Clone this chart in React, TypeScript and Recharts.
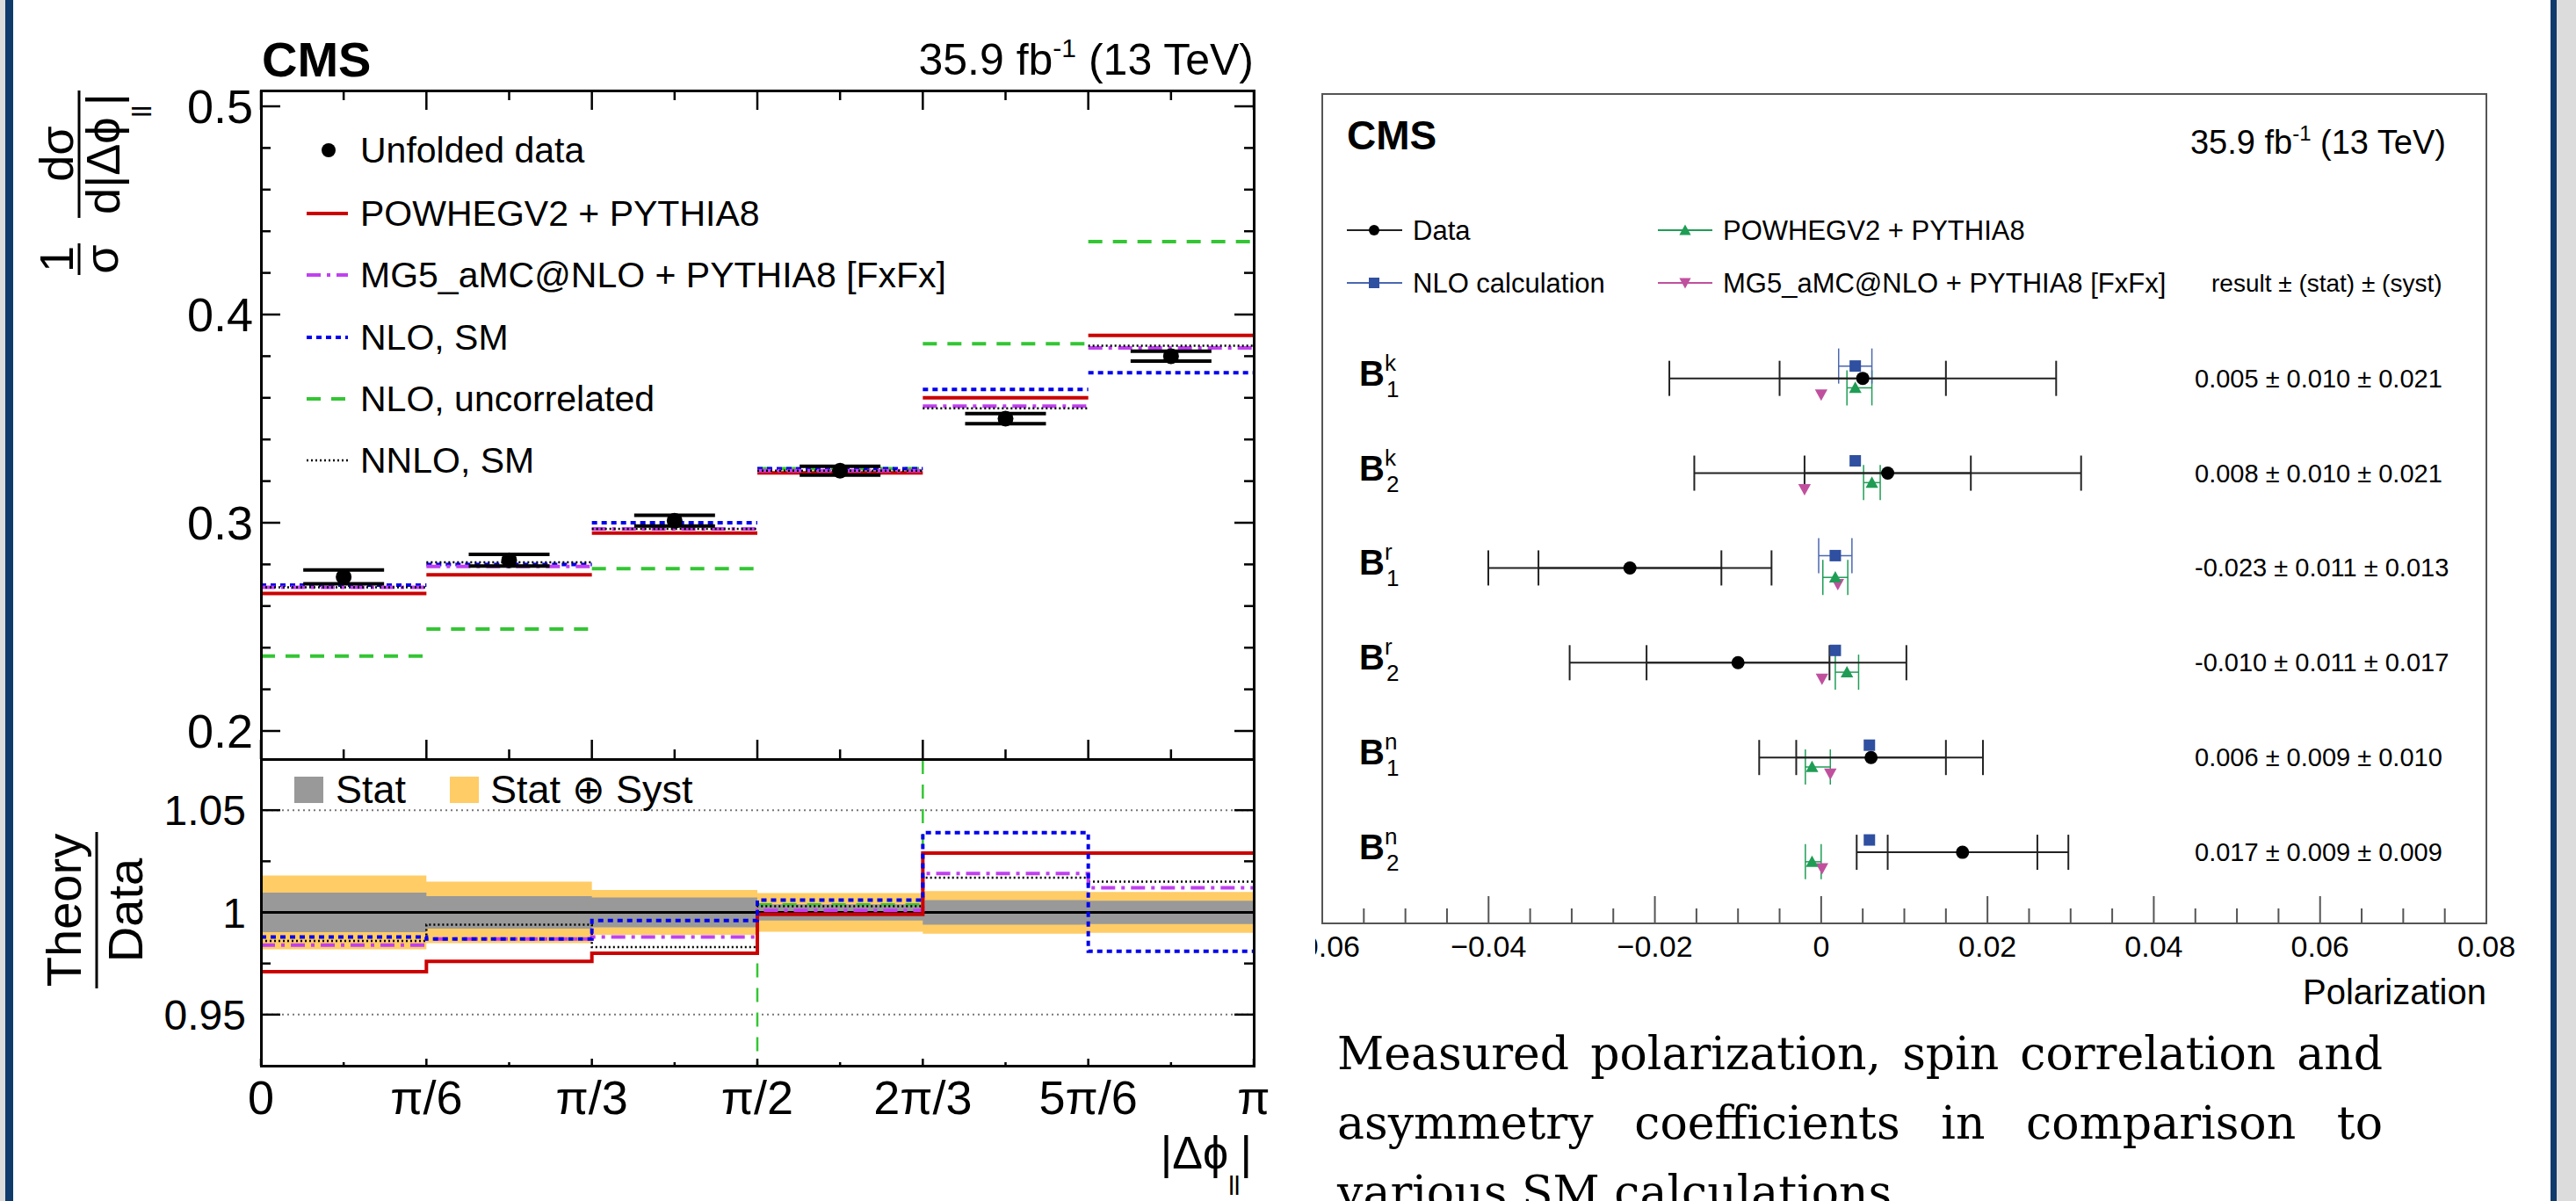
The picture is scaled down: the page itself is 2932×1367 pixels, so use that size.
import React from 'react';
import { ComposedChart, Line, Scatter, ErrorBar, XAxis, YAxis, Area, ReferenceLine } from 'recharts';

const FONT = '"Liberation Sans", Arial, Helvetica, sans-serif';
const SERIF = '"DejaVu Serif", "Liberation Serif", serif';

// ---------- left: normalised |Δφ_ll| distribution ----------
// bin edges in units of π/6
const BIN_EDGES = [0, 1, 2, 3, 4, 5, 6];
const BIN_CENTRES = [0.5, 1.5, 2.5, 3.5, 4.5, 5.5];
const X_TICK_LABELS = ['0', 'π/6', 'π/3', 'π/2', '2π/3', '5π/6', 'π'];
const X_MINOR = [0.5, 1.5, 2.5, 3.5, 4.5, 5.5];

const unfolded = [0.274, 0.282, 0.301, 0.325, 0.35, 0.38];
const unfoldedErr = [0.0033, 0.0028, 0.0026, 0.0021, 0.0024, 0.0024];
const powheg = [0.266, 0.275, 0.295, 0.324, 0.36, 0.39];
const mg5 = [0.269, 0.279, 0.297, 0.325, 0.356, 0.384];
const nloSM = [0.27, 0.28, 0.3, 0.326, 0.364, 0.372];
const nloUncorr = [0.236, 0.249, 0.278, 0.326, 0.386, 0.435];
const nnloSM = [0.269, 0.281, 0.297, 0.325, 0.355, 0.385];

const TOP_DOMAIN = [0.1865, 0.5076];
const TOP_Y_MAJOR = [0.2, 0.3, 0.4, 0.5];
const TOP_Y_LABELS = ['0.2', '0.3', '0.4', '0.5'];
const TOP_Y_MINOR = [0.22, 0.24, 0.26, 0.28, 0.32, 0.34, 0.36, 0.38, 0.42, 0.44, 0.46, 0.48];

// ratio panel (theory / data)
const statUnc = [0.0097, 0.008, 0.0073, 0.004, 0.006, 0.0057];
const totUnc = [0.018, 0.015, 0.011, 0.0095, 0.0104, 0.01];
const rPowheg = [0.971, 0.976, 0.98, 0.999, 1.029, 1.029];
const rNloSM = [0.988, 0.987, 0.996, 1.006, 1.039, 0.981];
const rMg5 = [0.984, 0.987, 0.988, 1.001, 1.019, 1.012];
const rNnlo = [0.986, 0.994, 0.983, 1.003, 1.017, 1.015];
const rNloUncorr = [0.862, 0.883, 0.923, 1.004, 1.103, 1.145];

const RATIO_DOMAIN = [0.925, 1.075];
const RATIO_Y_MAJOR = [0.95, 1, 1.05];
const RATIO_Y_LABELS = ['0.95', '1', '1.05'];
const RATIO_Y_MINOR = [0.975, 1.025];

// ---------- right: spin correlation coefficients ----------
const COEFF_SUP = ['k', 'k', 'r', 'r', 'n', 'n'];
const COEFF_SUB = ['1', '2', '1', '2', '1', '2'];
const measured = [0.005, 0.008, -0.023, -0.01, 0.006, 0.017];
const measStat = [0.01, 0.01, 0.011, 0.011, 0.009, 0.009];
const measSyst = [0.021, 0.021, 0.013, 0.017, 0.01, 0.009];
const nloCalc = [0.0041, 0.0041, 0.0017, 0.0017, 0.0058, 0.0058];
const nloCalcErr = [0.002, 0, 0.002, 0, 0, 0];
const powhegCoef = [0.0041, 0.0061, 0.0017, 0.0031, -0.0011, -0.0011];
const powhegCoefErr = [[0.001, 0.002], [0.001, 0.001], [0.0015, 0.0015], [0.0014, 0.0014], [0.0008, 0.0022], [0.0008, 0.0011]];
const mg5Coef = [0.0, -0.002, 0.002, 0.0001, 0.0011, 0.0001];

const POL_DOMAIN = [-0.06, 0.08];
const POL_MAJOR = [-0.06, -0.04, -0.02, 0, 0.02, 0.04, 0.06, 0.08];
const POL_LABELS = ['\u22120.06', '\u22120.04', '\u22120.02', '0', '0.02', '0.04', '0.06', '0.08'];
const POL_MINOR = Array.from({ length: 29 }, (_, i) => Math.round((-0.06 + i * 0.005) * 1000) / 1000);
const ROWS = [0, 1, 2, 3, 4, 5];
const ROW_DOMAIN = [-3, 5.75];
// vertical offsets (in rows) of the predictions around each measurement
const NLO_SHIFT = -0.13;
const POW_SHIFT = 0.1;
const MG_SHIFT = 0.17;

const RED = '#cc0000';
const MAGENTA = '#c040f0';
const BLUE = '#0000ee';
const GREEN = '#33c633';
const ORANGE = '#ffcc66';
const GREY = '#999999';
const C_NLO = '#2f4fa0';
const C_POW = '#1f9d55';
const C_MG = '#c0509e';

// horizontal segment per bin, broken between bins
const binSegments = (vals: number[]) =>
  vals.flatMap((v, i) => [
    { x: BIN_EDGES[i], y: v },
    { x: BIN_EDGES[i + 1], y: v },
    { x: BIN_EDGES[i + 1], y: null },
  ]);
// step outline, last value repeated on the right edge
const stepPoints = (vals: number[]) => BIN_EDGES.map((x, i) => ({ x, y: vals[Math.min(i, vals.length - 1)] }));
const bandPoints = (unc: number[]) =>
  BIN_EDGES.map((x, i) => {
    const e = unc[Math.min(i, unc.length - 1)];
    return { x, band: [1 - e, 1 + e] };
  });

const dataPoints = unfolded.map((y, i) => ({ x: BIN_CENTRES[i], y, err: unfoldedErr[i] }));

const dataRows = measured.map((x, i) => ({ x, y: ROWS[i], stat: measStat[i], tot: Math.hypot(measStat[i], measSyst[i]) }));
const nloRows = nloCalc.map((x, i) => ({ x, y: ROWS[i] + NLO_SHIFT, err: nloCalcErr[i] }));
const powRows = powhegCoef.map((x, i) => ({ x, y: ROWS[i] + POW_SHIFT, err: powhegCoefErr[i] }));
const mgRows = mg5Coef.map((x, i) => ({ x, y: ROWS[i] + MG_SHIFT }));

type TickArgs = { x: number; y: number; payload: { value: number } };
const idxOf = (v: number, list: number[]) => list.findIndex((m) => Math.abs(m - v) < 1e-9);

type TickOpts = {
  majors: number[];
  labels?: string[];
  major: number;
  minor: number;
  opposite?: number;
  offset?: number;
  size?: number;
  color?: string;
  width?: number;
};

// ROOT style: ticks point into the frame and are repeated on the opposite edge
function bottomTick(o: TickOpts) {
  const color = o.color ?? '#000';
  const w = o.width ?? 2.5;
  return ({ x, y, payload }: TickArgs) => {
    const k = idxOf(payload.value, o.majors);
    const len = k >= 0 ? o.major : o.minor;
    return (
      <g>
        <line x1={x} x2={x} y1={y} y2={y - len} stroke={color} strokeWidth={w} />
        {o.opposite ? <line x1={x} x2={x} y1={y - o.opposite} y2={y - o.opposite + len} stroke={color} strokeWidth={w} /> : null}
        {o.labels && k >= 0 ? (
          <text x={x} y={y + (o.offset ?? 0)} textAnchor="middle" fontSize={o.size} fontFamily={FONT} fill="#000">
            {o.labels[k]}
          </text>
        ) : null}
      </g>
    );
  };
}

function leftTick(o: TickOpts) {
  const color = o.color ?? '#000';
  const w = o.width ?? 2.5;
  return ({ x, y, payload }: TickArgs) => {
    const k = idxOf(payload.value, o.majors);
    const len = k >= 0 ? o.major : o.minor;
    const size = o.size ?? 40;
    return (
      <g>
        <line x1={x} x2={x + len} y1={y} y2={y} stroke={color} strokeWidth={w} />
        {o.opposite ? <line x1={x + o.opposite} x2={x + o.opposite - len} y1={y} y2={y} stroke={color} strokeWidth={w} /> : null}
        {o.labels && k >= 0 ? (
          <text x={x - (o.offset ?? 9)} y={y + size * 0.36} textAnchor="end" fontSize={size} fontFamily={FONT} fill="#000">
            {o.labels[k]}
          </text>
        ) : null}
      </g>
    );
  };
}

const DataDot = (p: any) => <circle cx={p.cx} cy={p.cy} r={9} fill="#000" />;

function TopPanel() {
  const series = [
    { vals: nloUncorr, color: GREEN, dash: '16 12', w: 4 },
    { vals: nloSM, color: BLUE, dash: '6 5', w: 4 },
    { vals: powheg, color: RED, dash: undefined, w: 4 },
    { vals: mg5, color: MAGENTA, dash: '16 7 4 7', w: 4 },
    { vals: nnloSM, color: '#000', dash: '2 3', w: 2.5 },
  ];
  return (
    <div style={{ position: 'absolute', left: 0, top: 0 }}>
      <ComposedChart width={1460} height={884} margin={{ top: 103, right: 33, bottom: 0, left: 197 }}>
        <XAxis
          dataKey="x"
          type="number"
          domain={[0, 6]}
          ticks={[...BIN_EDGES, ...X_MINOR]}
          interval={0}
          height={20}
          allowDataOverflow
          axisLine={false}
          tickLine={false}
          tickSize={0}
          tickMargin={0}
          tick={bottomTick({ majors: BIN_EDGES, major: 22, minor: 11, opposite: 761 })}
        />
        <YAxis
          dataKey="y"
          type="number"
          domain={TOP_DOMAIN}
          ticks={[...TOP_Y_MAJOR, ...TOP_Y_MINOR]}
          interval={0}
          width={100}
          allowDataOverflow
          axisLine={false}
          tickLine={false}
          tickSize={0}
          tickMargin={0}
          tick={leftTick({ majors: TOP_Y_MAJOR, labels: TOP_Y_LABELS, major: 22, minor: 11, opposite: 1130, size: 54, offset: 9 })}
        />
        {series.map((s, i) => (
          <Line
            key={i}
            data={binSegments(s.vals)}
            dataKey="y"
            type="linear"
            stroke={s.color}
            strokeWidth={s.w}
            strokeDasharray={s.dash}
            dot={false}
            activeDot={false}
            connectNulls={false}
            isAnimationActive={false}
          />
        ))}
        <Scatter data={dataPoints} dataKey="y" shape={DataDot} isAnimationActive={false}>
          <ErrorBar dataKey="err" direction="y" width={46} strokeWidth={4} stroke="#000" isAnimationActive={false} />
        </Scatter>
      </ComposedChart>
    </div>
  );
}

function RatioPanel() {
  const series = [
    { vals: rNloUncorr, color: GREEN, dash: '16 12', w: 2.5 },
    { vals: rNnlo, color: '#000', dash: '2 3', w: 2.5 },
    { vals: rMg5, color: MAGENTA, dash: '16 7 4 7', w: 4 },
    { vals: rPowheg, color: RED, dash: undefined, w: 4 },
    { vals: rNloSM, color: BLUE, dash: '6 5', w: 4 },
  ];
  return (
    <div style={{ position: 'absolute', left: 0, top: 850 }}>
      <ComposedChart width={1460} height={450} margin={{ top: 14, right: 33, bottom: 0, left: 197 }}>
        <XAxis
          dataKey="x"
          type="number"
          domain={[0, 6]}
          ticks={[...BIN_EDGES, ...X_MINOR]}
          interval={0}
          height={87}
          allowDataOverflow
          axisLine={false}
          tickLine={false}
          tickSize={0}
          tickMargin={0}
          tick={bottomTick({ majors: BIN_EDGES, labels: X_TICK_LABELS, major: 8, minor: 4, offset: 55, size: 54 })}
        />
        <YAxis
          dataKey="y"
          type="number"
          domain={RATIO_DOMAIN}
          ticks={[...RATIO_Y_MAJOR, ...RATIO_Y_MINOR]}
          interval={0}
          width={100}
          allowDataOverflow
          axisLine={false}
          tickLine={false}
          tickSize={0}
          tickMargin={0}
          tick={leftTick({ majors: RATIO_Y_MAJOR, labels: RATIO_Y_LABELS, major: 22, minor: 11, opposite: 1130, size: 48, offset: 17 })}
        />
        <Area data={bandPoints(totUnc)} dataKey="band" type="stepAfter" stroke="none" fill={ORANGE} fillOpacity={1} isAnimationActive={false} />
        <Area data={bandPoints(statUnc)} dataKey="band" type="stepAfter" stroke="none" fill={GREY} fillOpacity={1} isAnimationActive={false} />
        <ReferenceLine y={1.05} stroke="#777" strokeWidth={2} strokeDasharray="2 4" />
        <ReferenceLine y={0.95} stroke="#777" strokeWidth={2} strokeDasharray="2 4" />
        <ReferenceLine y={1} stroke="#000" strokeWidth={3} />
        {series.map((s, i) => (
          <Line
            key={i}
            data={stepPoints(s.vals)}
            dataKey="y"
            type="stepAfter"
            stroke={s.color}
            strokeWidth={s.w}
            strokeDasharray={s.dash}
            dot={false}
            activeDot={false}
            isAnimationActive={false}
          />
        ))}
      </ComposedChart>
    </div>
  );
}

const fmt = (v: number) => v.toFixed(3);

function RowLabel({ x, y, payload }: TickArgs) {
  const i = payload.value;
  return (
    <g fontFamily={FONT} fill="#000">
      <text x={x + 42} y={y + 8} fontSize={40} fontWeight="bold">B</text>
      <text x={x + 71} y={y - 9} fontSize={26}>{COEFF_SUP[i]}</text>
      <text x={x + 73} y={y + 21} fontSize={26}>{COEFF_SUB[i]}</text>
      <text x={x + 993} y={y + 10} fontSize={29}>
        {`${fmt(measured[i])} ± ${fmt(measStat[i])} ± ${fmt(measSyst[i])}`}
      </text>
    </g>
  );
}

const tri = (cx: number, cy: number, s: number, down = false) => {
  const d = down ? -1 : 1;
  return `M${cx},${cy - d * s * 0.55} L${cx + s * 0.55},${cy + d * s * 0.45} L${cx - s * 0.55},${cy + d * s * 0.45} Z`;
};
const MeasDot = (p: any) => <circle cx={p.cx} cy={p.cy} r={7.5} fill="#000" />;
const NloSquare = (p: any) => <rect x={p.cx - 6.5} y={p.cy - 6.5} width={13} height={13} fill={C_NLO} />;
const PowTriangle = (p: any) => <path d={tri(p.cx, p.cy, 13)} fill={C_POW} />;
const MgTriangle = (p: any) => <path d={tri(p.cx, p.cy, 13, true)} fill={C_MG} />;

function CoefficientPanel() {
  return (
    <div style={{ position: 'absolute', left: 1497, top: 100, width: 1393, height: 1060, overflow: 'hidden' }}>
      <ComposedChart width={1393} height={1060} margin={{ top: 7, right: 60, bottom: 0, left: 7 }}>
        <XAxis
          dataKey="x"
          type="number"
          domain={POL_DOMAIN}
          ticks={POL_MINOR}
          interval={0}
          height={109}
          allowDataOverflow
          axisLine={false}
          tickLine={false}
          tickSize={0}
          tickMargin={0}
          tick={bottomTick({ majors: POL_MAJOR, labels: POL_LABELS, major: 31, minor: 17, offset: 38, size: 34, color: '#555', width: 2 })}
        />
        <YAxis
          dataKey="y"
          type="number"
          domain={ROW_DOMAIN}
          reversed
          ticks={ROWS}
          interval={0}
          width={1}
          allowDataOverflow
          axisLine={false}
          tickLine={false}
          tickSize={0}
          tickMargin={0}
          tick={RowLabel}
        />
        <Scatter data={mgRows} dataKey="y" shape={MgTriangle} isAnimationActive={false} />
        <Scatter data={powRows} dataKey="y" shape={PowTriangle} isAnimationActive={false}>
          <ErrorBar dataKey="err" direction="x" width={20} strokeWidth={1.5} stroke={C_POW} isAnimationActive={false} />
        </Scatter>
        <Scatter data={nloRows} dataKey="y" shape={NloSquare} isAnimationActive={false}>
          <ErrorBar dataKey="err" direction="x" width={20} strokeWidth={1.5} stroke="#4a67b0" isAnimationActive={false} />
        </Scatter>
        <Scatter data={dataRows} dataKey="y" shape={MeasDot} isAnimationActive={false}>
          <ErrorBar dataKey="tot" direction="x" width={20} strokeWidth={2} stroke="#222" isAnimationActive={false} />
          <ErrorBar dataKey="stat" direction="x" width={20} strokeWidth={2} stroke="#222" isAnimationActive={false} />
        </Scatter>
      </ComposedChart>
    </div>
  );
}

function Overlay() {
  const legendRows = [171, 243, 313, 384, 454, 524];
  const legendLines = [
    { color: RED, dash: undefined, w: 4 },
    { color: MAGENTA, dash: '16 7 4 7', w: 4 },
    { color: BLUE, dash: '6 5', w: 4 },
    { color: GREEN, dash: '16 12', w: 4 },
    { color: '#000', dash: '2 3', w: 2.5 },
  ];
  const legendText = ['Unfolded data', 'POWHEGV2 + PYTHIA8', 'MG5_aMC@NLO + PYTHIA8 [FxFx]', 'NLO, SM', 'NLO, uncorrelated', 'NNLO, SM'];
  return (
    <svg width={2932} height={1367} style={{ position: 'absolute', left: 0, top: 0, pointerEvents: 'none' }} fontFamily={FONT}>
      {/* left panel header */}
      <text x={298} y={87} fontSize={56} fontWeight="bold">CMS</text>
      <text x={1427} y={85} fontSize={50} textAnchor="end">
        35.9 fb<tspan fontSize={30} dy={-20}>-1</tspan>
        <tspan fontSize={50} dy={20}> (13 TeV)</tspan>
      </text>

      {/* left legend */}
      <circle cx={374} cy={legendRows[0]} r={8} fill="#000" />
      {legendLines.map((l, i) => (
        <line key={i} x1={349} x2={396} y1={legendRows[i + 1]} y2={legendRows[i + 1]} stroke={l.color} strokeWidth={l.w} strokeDasharray={l.dash} />
      ))}
      {legendText.map((t, i) => (
        <text key={t} x={410} y={legendRows[i] + 14} fontSize={41}>{t}</text>
      ))}

      {/* y title, top panel */}
      <g transform="translate(90,313) rotate(-90)" fontSize={54}>
        <text x={18} y={-7} textAnchor="middle">1</text>
        <line x1={0} x2={36} y1={0} y2={0} stroke="#000" strokeWidth={3} />
        <text x={18} y={44} textAnchor="middle">σ</text>
        <text x={138} y={-7} textAnchor="middle">dσ</text>
        <line x1={65} x2={210} y1={0} y2={0} stroke="#000" strokeWidth={3} />
        <text x={138} y={46} textAnchor="middle">
          d|Δϕ<tspan fontSize={30} dy={36}>ll</tspan>
          <tspan fontSize={54} dy={-36}>|</tspan>
        </text>
      </g>

      {/* ratio panel */}
      <g transform="translate(110,1036) rotate(-90)" fontSize={56}>
        <text x={0} y={-18} textAnchor="middle">Theory</text>
        <line x1={-89} x2={89} y1={0} y2={0} stroke="#000" strokeWidth={3} />
        <text x={0} y={52} textAnchor="middle">Data</text>
      </g>
      <rect x={335} y={884} width={33} height={30} fill={GREY} />
      <text x={382} y={914} fontSize={45}>Stat</text>
      <rect x={512} y={884} width={33} height={30} fill={ORANGE} />
      <text x={558} y={914} fontSize={45}>Stat ⊕ Syst</text>
      <text x={1425} y={1330} fontSize={52} textAnchor="end">
        |Δϕ<tspan fontSize={30} dy={30}>ll</tspan>
        <tspan fontSize={52} dy={-30}>|</tspan>
      </text>

      {/* right panel header and legend */}
      <text x={1533} y={170} fontSize={46} fontWeight="bold">CMS</text>
      <text x={2784} y={175} fontSize={38} textAnchor="end">
        35.9 fb<tspan fontSize={24} dy={-15}>-1</tspan>
        <tspan fontSize={38} dy={15}> (13 TeV)</tspan>
      </text>
      <line x1={1533} x2={1596} y1={262} y2={262} stroke="#222" strokeWidth={2} />
      <circle cx={1564} cy={262} r={6} fill="#000" />
      <text x={1608} y={273} fontSize={31}>Data</text>
      <line x1={1533} x2={1596} y1={322} y2={322} stroke="#4a67b0" strokeWidth={2} />
      <rect x={1558} y={316} width={12} height={12} fill={C_NLO} />
      <text x={1608} y={333} fontSize={31}>NLO calculation</text>
      <line x1={1887} x2={1949} y1={262} y2={262} stroke={C_POW} strokeWidth={2} />
      <path d={tri(1918, 262, 12)} fill={C_POW} />
      <text x={1961} y={273} fontSize={31}>POWHEGV2 + PYTHIA8</text>
      <line x1={1887} x2={1949} y1={322} y2={322} stroke={C_MG} strokeWidth={2} />
      <path d={tri(1918, 322, 12, true)} fill={C_MG} />
      <text x={1961} y={333} fontSize={31}>MG5_aMC@NLO + PYTHIA8 [FxFx]</text>
      <text x={2517} y={332} fontSize={28}>result ± (stat) ± (syst)</text>
      <text x={2830} y={1143} fontSize={40} textAnchor="end">Polarization</text>
    </svg>
  );
}

function Frames() {
  const box = (left: number, top: number, width: number, height: number, w: number, color: string) => (
    <div
      style={{
        position: 'absolute',
        left: left - w / 2,
        top: top - w / 2,
        width: width + w,
        height: height + w,
        border: `${w}px solid ${color}`,
        boxSizing: 'border-box',
        pointerEvents: 'none',
      }}
    />
  );
  return (
    <>
      {box(297, 103, 1130, 761, 3, '#000')}
      {box(297, 864, 1130, 349, 3, '#000')}
      {box(1505, 107, 1325, 944, 2, '#555')}
    </>
  );
}

function Caption() {
  const line: React.CSSProperties = {
    position: 'absolute',
    left: 1522,
    width: 1190,
    fontFamily: SERIF,
    fontSize: 52,
    lineHeight: '79px',
    color: '#000',
    textAlign: 'justify',
    textAlignLast: 'justify',
  };
  return (
    <>
      <div style={{ ...line, top: 1160 }}>Measured polarization, spin correlation and</div>
      <div style={{ ...line, top: 1239 }}>asymmetry coefficients in comparison to</div>
      <div style={{ ...line, top: 1318, textAlign: 'left', textAlignLast: 'left' }}>various SM calculations.</div>
    </>
  );
}

export default function App() {
  return (
    <div
      style={{
        position: 'absolute',
        left: 0,
        top: 0,
        width: 2932,
        height: 1367,
        overflow: 'hidden',
        background: '#fff',
        fontFamily: FONT,
      }}
    >
      <div style={{ position: 'absolute', left: 0, top: 0, width: 6, height: 1367, background: '#dcdcdc' }} />
      <div style={{ position: 'absolute', left: 6, top: 0, width: 9, height: 1367, background: '#0f3a6c' }} />
      <div style={{ position: 'absolute', left: 2903, top: 0, width: 7, height: 1367, background: '#0f3a6c' }} />
      <div style={{ position: 'absolute', left: 2910, top: 0, width: 22, height: 1367, background: '#dcdcdc' }} />
      <TopPanel />
      <RatioPanel />
      <CoefficientPanel />
      <Frames />
      <Overlay />
      <Caption />
    </div>
  );
}
